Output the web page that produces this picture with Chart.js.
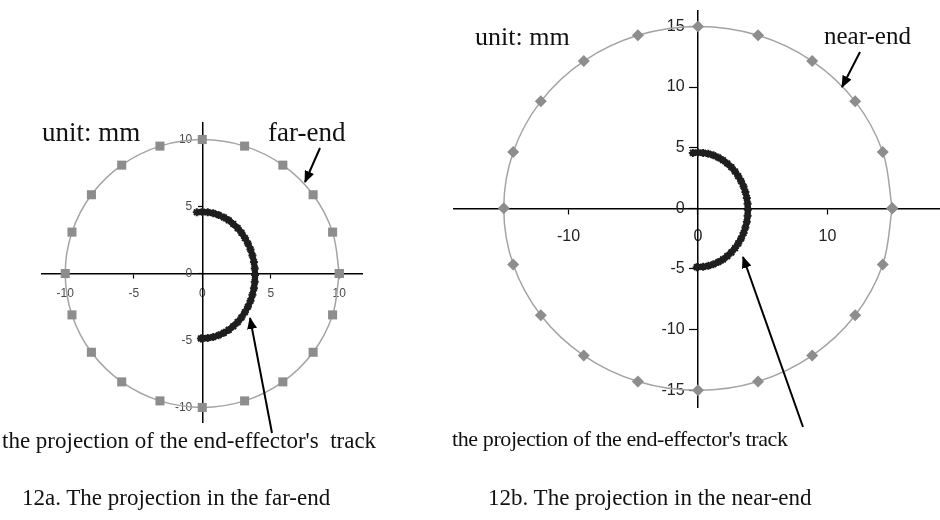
<!DOCTYPE html>
<html>
<head>
<meta charset="utf-8">
<script src="https://cdn.jsdelivr.net/npm/chart.js@4.4.1/dist/chart.umd.min.js"></script>
<style>
  body { margin: 0; background: #fff; width: 940px; height: 520px; overflow: hidden; position: relative; }
  canvas.plot { position: absolute; }
  svg.notes { position: absolute; left: 0; top: 0; font-family: "Liberation Serif", "Times New Roman", serif; fill: #111; }
</style>
</head>
<body>
<canvas id="farChart" class="plot" width="322" height="301" style="left:41px;top:122px"></canvas>
<canvas id="nearChart" class="plot" width="487" height="398" style="left:453px;top:10px"></canvas>

<svg class="notes" width="940" height="520">
  <defs>
    <marker id="head" viewBox="0 0 12 10" refX="11" refY="5" markerWidth="12" markerHeight="10" markerUnits="userSpaceOnUse" orient="auto">
      <path d="M0,0 L12,5 L0,10 z" fill="#000"/>
    </marker>
  </defs>
  <!-- 12a -->
  <text x="42" y="141" font-size="27">unit: mm</text>
  <text x="268" y="141" font-size="27">far-end</text>
  <line x1="320" y1="148" x2="305" y2="182" stroke="#000" stroke-width="2" marker-end="url(#head)"/>
  <line x1="272" y1="433" x2="250" y2="318" stroke="#000" stroke-width="2" marker-end="url(#head)"/>
  <text x="2" y="448" font-size="23" xml:space="preserve">the projection of the end-effector's  track</text>
  <text x="22" y="505" font-size="23">12a. The projection in the far-end</text>
  <!-- 12b -->
  <text x="475" y="45" font-size="26">unit: mm</text>
  <text x="824" y="44" font-size="25">near-end</text>
  <line x1="860" y1="52" x2="842" y2="87" stroke="#000" stroke-width="2" marker-end="url(#head)"/>
  <line x1="803" y1="427" x2="743" y2="257" stroke="#000" stroke-width="2" marker-end="url(#head)"/>
  <text x="452" y="446" font-size="22" letter-spacing="-0.4">the projection of the end-effector's track</text>
  <text x="488" y="505" font-size="23">12b. The projection in the near-end</text>
</svg>

<script>
// far-end circle, radius 10 mm, 20 markers (first point repeated to close the loop)
const farCircleX = [10, 9.51, 8.09, 5.88, 3.09, 0, -3.09, -5.88, -8.09, -9.51, -10, -9.51, -8.09, -5.88, -3.09, 0, 3.09, 5.88, 8.09, 9.51, 10];
const farCircleY = [0, 3.09, 5.88, 8.09, 9.51, 10, 9.51, 8.09, 5.88, 3.09, 0, -3.09, -5.88, -8.09, -9.51, -10, -9.51, -8.09, -5.88, -3.09, 0];

// near-end circle, radius 15 mm
const nearCircleX = [15, 14.27, 12.14, 8.82, 4.64, 0, -4.64, -8.82, -12.14, -14.27, -15, -14.27, -12.14, -8.82, -4.64, 0, 4.64, 8.82, 12.14, 14.27, 15];
const nearCircleY = [0, 4.64, 8.82, 12.14, 14.27, 15, 14.27, 12.14, 8.82, 4.64, 0, -4.64, -8.82, -12.14, -14.27, -15, -14.27, -12.14, -8.82, -4.64, 0];

// end-effector track projection (same in both views)
const trackX = [-0.40, 0, 0.40, 0.80, 1.19, 1.57, 1.93, 2.26, 2.58, 2.86, 3.11, 3.33, 3.52, 3.66, 3.77, 3.83, 3.85,
                3.83, 3.77, 3.66, 3.52, 3.33, 3.11, 2.86, 2.58, 2.26, 1.93, 1.57, 1.19, 0.80, 0.40, 0, -0.10];
const trackY = [4.57, 4.60, 4.57, 4.50, 4.37, 4.19, 3.97, 3.70, 3.39, 3.04, 2.65, 2.24, 1.80, 1.34, 0.86, 0.37, -0.12,
                -0.61, -1.10, -1.58, -2.04, -2.48, -2.89, -3.28, -3.63, -3.94, -4.21, -4.43, -4.61, -4.74, -4.81, -4.84, -4.85];

// tick labels
const farTicks = [-10, -5, 0, 5, 10];
const nearXTicks = [-10, 0, 10];
const nearYTicks = [-15, -10, -5, 0, 5, 10, 15];

function toPoints(xs, ys) {
    return xs.map((x, i) => ({ x: x, y: ys[i] }));
}

// axis crossing at the origin, ticks fixed to the given values
function crossAxis(dir, min, max, tickValues, o) {
    return {
        type: 'linear',
        min: min,
        max: max,
        position: dir === 'x' ? { y: 0 } : { x: 0 },
        border: { display: true, color: '#000', width: 1.5 },
        grid: {
            display: true,
            drawOnChartArea: false,
            drawTicks: true,
            tickLength: o.tickLength,
            tickColor: '#000',
            tickWidth: 1.2
        },
        ticks: {
            color: o.color,
            font: { family: 'Liberation Sans', size: o.size },
            padding: o.padding,
            maxRotation: 0,
            autoSkip: false,
            // y labels sit right on the axis line otherwise, pad them with trailing spaces
            callback: v => dir === 'y' ? v + ' '.repeat(o.gap) : v
        },
        afterBuildTicks: function (scale) {
            scale.ticks = tickValues.map(v => ({ value: v }));
        },
        // no extra room for the labels: the plot fills the canvas
        afterFit: function (scale) {
            scale.paddingLeft = scale.paddingRight = scale.paddingTop = scale.paddingBottom = 0;
        }
    };
}

function drawView(canvasId, circle, marker, scales) {
    const ctx = document.getElementById(canvasId).getContext('2d');
    return new Chart(ctx, {
        type: 'scatter',
        data: {
            datasets: [
                {
                    data: circle,
                    showLine: true,
                    tension: 0.35,
                    borderColor: '#a4a4a4',
                    borderWidth: 1.5,
                    pointStyle: marker.style,
                    pointRadius: marker.radius,
                    pointBackgroundColor: '#8d8d8d',
                    pointBorderColor: '#8d8d8d',
                    pointBorderWidth: 0,
                    clip: false,
                    order: 2
                },
                {
                    data: toPoints(trackX, trackY),
                    showLine: true,
                    tension: 0.3,
                    borderColor: '#1e1e1e',
                    borderWidth: 6,
                    pointStyle: 'star',
                    pointRadius: 4,
                    pointBorderWidth: 2,
                    pointBorderColor: '#1e1e1e',
                    pointBackgroundColor: '#1e1e1e',
                    clip: false,
                    order: 1
                }
            ]
        },
        options: {
            responsive: false,
            animation: false,
            devicePixelRatio: 1,
            layout: { padding: 0, autoPadding: false },
            plugins: { legend: { display: false }, tooltip: { enabled: false } },
            scales: scales
        }
    });
}

// 12a: far-end
drawView('farChart', toPoints(farCircleX, farCircleY), { style: 'rect', radius: 6.4 }, {
    x: crossAxis('x', -11.77, 11.73, farTicks, { size: 12, color: '#4a4a4a', tickLength: 4, padding: 9 }),
    y: crossAxis('y', -11.16, 11.31, farTicks, { size: 12, color: '#4a4a4a', tickLength: 4, padding: 0, gap: 3 })
});

// 12b: near-end
drawView('nearChart', toPoints(nearCircleX, nearCircleY), { style: 'rectRot', radius: 6 }, {
    x: crossAxis('x', -18.92, 18.69, nearXTicks, { size: 16, color: '#222', tickLength: 5, padding: 14 }),
    y: crossAxis('y', -16.46, 16.35, nearYTicks, { size: 16, color: '#222', tickLength: 8, padding: 0, gap: 3 })
});
</script>
</body>
</html>
